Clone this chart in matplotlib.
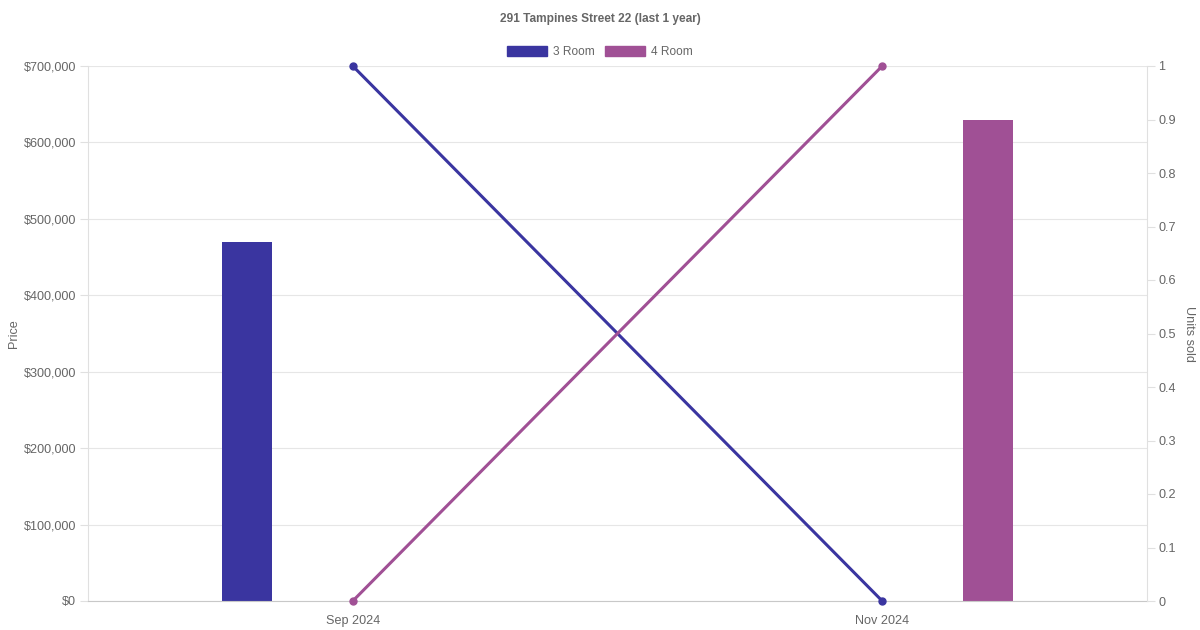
import matplotlib.pyplot as plt
from matplotlib.patches import Patch
from matplotlib.ticker import FuncFormatter

plt.rcParams["font.family"] = ["Liberation Sans", "DejaVu Sans"]

months = ["Sep 2024", "Nov 2024"]
series = ["3 Room", "4 Room"]
colors = ["#3a35a0", "#a05095"]
# price per month (None = no sale)
price_3room = [470000, None]
price_4room = [None, 630000]
# units sold per month
units_3room = [1, 0]
units_4room = [0, 1]

text_col = "#666666"
fs = 8.6
tick_fs = 9.1

fig = plt.figure(figsize=(12, 6.3), dpi=100)
ax = fig.add_axes([88 / 1200, 29 / 630, (1147 - 88) / 1200, (601 - 66) / 630])
ax2 = ax.twinx()

xs = [i + 0.5 for i in range(len(months))]
bar_w = 0.094
offsets = [-0.2, 0.2]
for prices, off, col in zip([price_3room, price_4room], offsets, colors):
    for x, p in zip(xs, prices):
        if p is not None:
            ax.bar(x + off, p, width=bar_w, color=col, zorder=2)

for units, col in zip([units_3room, units_4room], colors):
    ax2.plot(xs, units, color=col, lw=2.2, marker="o", ms=5, clip_on=False, zorder=3)

ax.set_xlim(0, len(months))
ax.set_ylim(0, 700000)
ax.set_yticks(range(0, 700001, 100000))
ax.yaxis.set_major_formatter(FuncFormatter(lambda v, _: f"${v:,.0f}"))
ax.set_xticks(xs)
ax.set_xticklabels(months)
ax.grid(axis="y", color="#e6e6e6", lw=0.8, zorder=0)
ax.set_axisbelow(True)

ax2.set_ylim(0, 1)
ax2.set_yticks([i / 10 for i in range(11)])
ax2.yaxis.set_major_formatter(FuncFormatter(lambda v, _: f"{v:g}"))

for a in (ax, ax2):
    for s in a.spines.values():
        s.set_visible(False)
    a.tick_params(colors="#e0e0e0", labelcolor=text_col, labelsize=tick_fs, length=6, width=0.8)
ax.spines["left"].set_visible(True)
ax.spines["left"].set_color("#e0e0e0")
ax.spines["bottom"].set_visible(True)
ax.spines["bottom"].set_color("#c8c8c8")
ax2.spines["right"].set_visible(True)
ax2.spines["right"].set_color("#e0e0e0")
ax.tick_params(axis="x", length=0, pad=10)
ax.tick_params(axis="y", pad=2.5)
ax2.tick_params(axis="y", pad=2)

ax.set_ylabel("Price", color=text_col, fontsize=tick_fs, labelpad=3)
ax2.set_ylabel("Units sold", color=text_col, fontsize=tick_fs, rotation=270, labelpad=14)

fig.text(0.5, 1 - 19 / 630, "291 Tampines Street 22 (last 1 year)", ha="center", va="center",
         fontsize=fs, fontweight="bold", color=text_col)

handles = [Patch(facecolor=c, edgecolor=c, label=s) for s, c in zip(series, colors)]
fig.legend(handles=handles, loc="center", bbox_to_anchor=(0.5, 1 - 52 / 630), ncol=2, frameon=False,
           fontsize=fs, labelcolor=text_col, handlelength=3.3, handleheight=1.0,
           handletextpad=0.5, columnspacing=0.9)

fig.savefig("out.png", dpi=100)
